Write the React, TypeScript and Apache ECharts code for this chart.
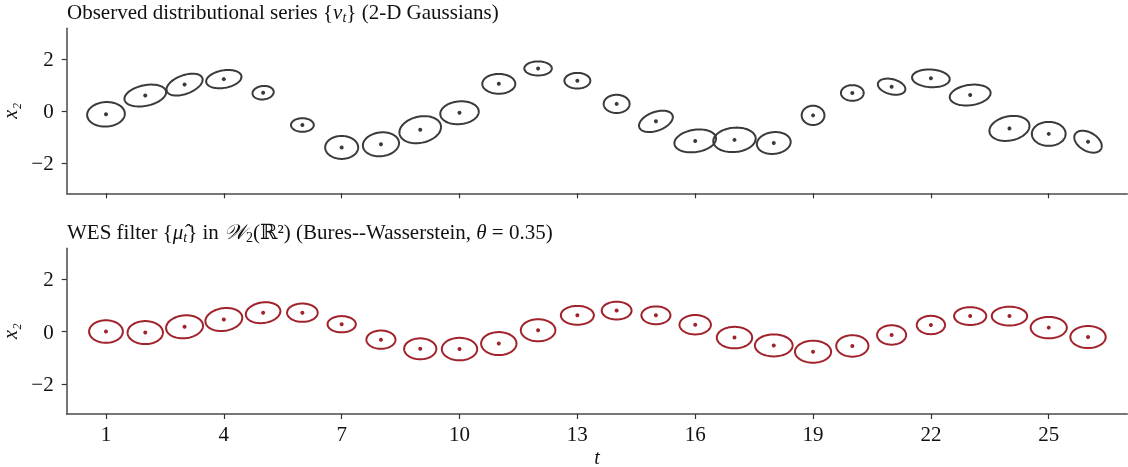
import React, { useEffect, useRef } from "react";
import * as echarts from "echarts";

// time index
const T = [1, 2, 3, 4, 5, 6, 7, 8, 9, 10, 11, 12, 13, 14, 15, 16, 17, 18, 19, 20, 21, 22, 23, 24, 25, 26];
const X_TICKS = [1, 4, 7, 10, 13, 16, 19, 22, 25];
const Y_TICKS = [-2, 0, 2];

// observed Gaussians: mean of x2, half-width (t units), half-height (x2 units), tilt correlation
const obsMean = [-0.12, 0.6, 1.02, 1.23, 0.71, -0.53, -1.39, -1.27, -0.71, -0.06, 1.05, 1.64, 1.17, 0.28, -0.39, -1.14, -1.1, -1.22, -0.16, 0.7, 0.94, 1.26, 0.62, -0.66, -0.87, -1.17];
const obsHalfW = [0.48, 0.53, 0.46, 0.45, 0.27, 0.29, 0.42, 0.46, 0.53, 0.49, 0.42, 0.35, 0.33, 0.33, 0.43, 0.53, 0.54, 0.43, 0.29, 0.29, 0.35, 0.48, 0.52, 0.51, 0.43, 0.35];
const obsHalfH = [0.47, 0.42, 0.42, 0.35, 0.26, 0.26, 0.44, 0.46, 0.52, 0.44, 0.38, 0.27, 0.3, 0.35, 0.41, 0.44, 0.47, 0.42, 0.37, 0.3, 0.31, 0.34, 0.4, 0.48, 0.46, 0.42];
const obsCorr = [0.05, 0.3, 0.45, 0.25, 0.1, 0, 0, 0.1, 0.2, 0.1, 0, 0, 0, 0, 0.4, 0.2, 0.1, 0.1, 0, 0, -0.3, -0.1, 0.2, 0.2, 0, -0.4];

// WES filter output
const filtMean = [0.0, -0.04, 0.18, 0.46, 0.72, 0.72, 0.28, -0.31, -0.66, -0.67, -0.46, 0.05, 0.62, 0.8, 0.62, 0.26, -0.23, -0.53, -0.77, -0.55, -0.13, 0.25, 0.59, 0.59, 0.15, -0.21];
const filtHalfW = [0.43, 0.45, 0.47, 0.47, 0.44, 0.39, 0.36, 0.37, 0.41, 0.45, 0.45, 0.44, 0.42, 0.38, 0.37, 0.4, 0.45, 0.48, 0.46, 0.41, 0.37, 0.36, 0.41, 0.45, 0.46, 0.45];
const filtHalfH = [0.43, 0.44, 0.44, 0.44, 0.4, 0.35, 0.31, 0.35, 0.4, 0.43, 0.44, 0.42, 0.36, 0.34, 0.34, 0.37, 0.41, 0.42, 0.42, 0.41, 0.37, 0.35, 0.34, 0.36, 0.41, 0.42];
const filtCorr = [0, 0, 0.1, 0.15, 0.15, 0, 0, 0, 0, 0, 0, 0, 0, 0, 0, 0, 0, 0, 0, 0, 0, 0, 0, 0, 0, 0];

const GRAY = "#3a3a3a";
const RED = "#a0222a";
const SERIF = "'Liberation Serif', 'DejaVu Serif', serif";

function rows(mean: number[], hw: number[], hh: number[], r: number[]) {
  return T.map((t, i) => [t, mean[i], hw[i], hh[i], r[i]]);
}

function ellipseRenderer(color: string) {
  return (params: any, api: any) => {
    const t = api.value(0);
    const m = api.value(1);
    const hw = api.value(2);
    const hh = api.value(3);
    const r = api.value(4);
    const s = Math.sqrt(1 - r * r);
    const pts: number[][] = [];
    const N = 90;
    for (let k = 0; k < N; k++) {
      const a = (2 * Math.PI * k) / N;
      const x = t + hw * Math.cos(a);
      const y = m + hh * (r * Math.cos(a) + s * Math.sin(a));
      pts.push(api.coord([x, y]));
    }
    const c = api.coord([t, m]);
    return {
      type: "group",
      children: [
        { type: "polygon", shape: { points: pts }, style: { fill: "none", stroke: color, lineWidth: 2 } },
        { type: "circle", shape: { cx: c[0], cy: c[1], r: 2 }, style: { fill: color } },
      ],
    };
  };
}

export default function App() {
  const ref = useRef<HTMLDivElement>(null);
  useEffect(() => {
    if (!ref.current) return;
    const chart = echarts.init(ref.current, undefined, { renderer: "svg" });
    const axisLine = { show: true, onZero: false, lineStyle: { color: "#4a4a4a", width: 1.5 } };
    const axisTickX = { show: true, length: 5, customValues: X_TICKS, lineStyle: { color: "#333", width: 1.2 } };
    const axisTickY = { show: true, length: 5, customValues: Y_TICKS, lineStyle: { color: "#333", width: 1.2 } };
    const tickFont = { fontFamily: SERIF, fontSize: 21, color: "#111" };
    const titleRich = {
      i: { fontFamily: SERIF, fontStyle: "italic", fontSize: 21, color: "#111", lineHeight: 24 },
      s: { fontFamily: SERIF, fontStyle: "italic", fontSize: 14, color: "#111", lineHeight: 24, verticalAlign: "bottom" },
      n: { fontFamily: SERIF, fontSize: 14, color: "#111", lineHeight: 24, verticalAlign: "bottom" },
    };
    const titleStyle = { fontFamily: SERIF, fontSize: 21, fontWeight: "normal", color: "#111", lineHeight: 24, rich: titleRich };
    const yAxisCommon = {
      type: "value",
      min: -3.15,
      max: 3.18,
      axisLine,
      axisTick: axisTickY,
      axisLabel: {
        ...tickFont,
        margin: 13,
        customValues: Y_TICKS,
        formatter: (v: number) => String(v).replace("-", "\u2212"),
      },
      splitLine: { show: false },
      name: "x₂",
      nameLocation: "middle",
      nameGap: 42,
      nameRotate: 90,
      nameTextStyle: { fontFamily: SERIF, fontStyle: "italic", fontSize: 20, lineHeight: 20, color: "#111" },
    };
    chart.setOption({
      animation: false,
      title: [
        {
          text: "Observed distributional series {{i|ν}{s|t}} (2-D Gaussians)",
          left: 67,
          top: 0,
          padding: 0,
          textStyle: titleStyle,
        },
        {
          text: "WES filter {{i|μ̂}{s|t}} in {i|𝒲}{n|2}(ℝ²) (Bures--Wasserstein, {i|θ} = 0.35)",
          left: 67,
          top: 220,
          padding: 0,
          textStyle: titleStyle,
        },
      ],
      grid: [
        { left: 66.7, right: 0.7, top: 28.3, height: 165, containLabel: false, outerBoundsMode: "none" },
        { left: 66.7, right: 0.7, top: 248.3, height: 165.7, containLabel: false, outerBoundsMode: "none" },
      ],
      xAxis: [
        {
          gridIndex: 0,
          type: "value",
          min: 0,
          max: 27,
          axisLine,
          axisTick: axisTickX,
          axisLabel: { show: false, customValues: X_TICKS },
          splitLine: { show: false },
        },
        {
          gridIndex: 1,
          type: "value",
          min: 0,
          max: 27,
          axisLine,
          axisTick: axisTickX,
          axisLabel: { ...tickFont, margin: 9, customValues: X_TICKS },
          splitLine: { show: false },
          name: "t",
          nameLocation: "middle",
          nameGap: 34,
          nameTextStyle: { fontFamily: SERIF, fontStyle: "italic", fontSize: 20, lineHeight: 18, color: "#111" },
        },
      ],
      yAxis: [
        { gridIndex: 0, ...yAxisCommon },
        { gridIndex: 1, ...yAxisCommon },
      ],
      series: [
        {
          type: "custom",
          xAxisIndex: 0,
          yAxisIndex: 0,
          renderItem: ellipseRenderer(GRAY),
          data: rows(obsMean, obsHalfW, obsHalfH, obsCorr),
          encode: { x: 0, y: 1 },
          clip: false,
        },
        {
          type: "custom",
          xAxisIndex: 1,
          yAxisIndex: 1,
          renderItem: ellipseRenderer(RED),
          data: rows(filtMean, filtHalfW, filtHalfH, filtCorr),
          encode: { x: 0, y: 1 },
          clip: false,
        },
      ],
    });
    return () => chart.dispose();
  }, []);
  return <div ref={ref} style={{ position: "fixed", left: 0, top: 0, width: 1128, height: 467 }} />;
}
